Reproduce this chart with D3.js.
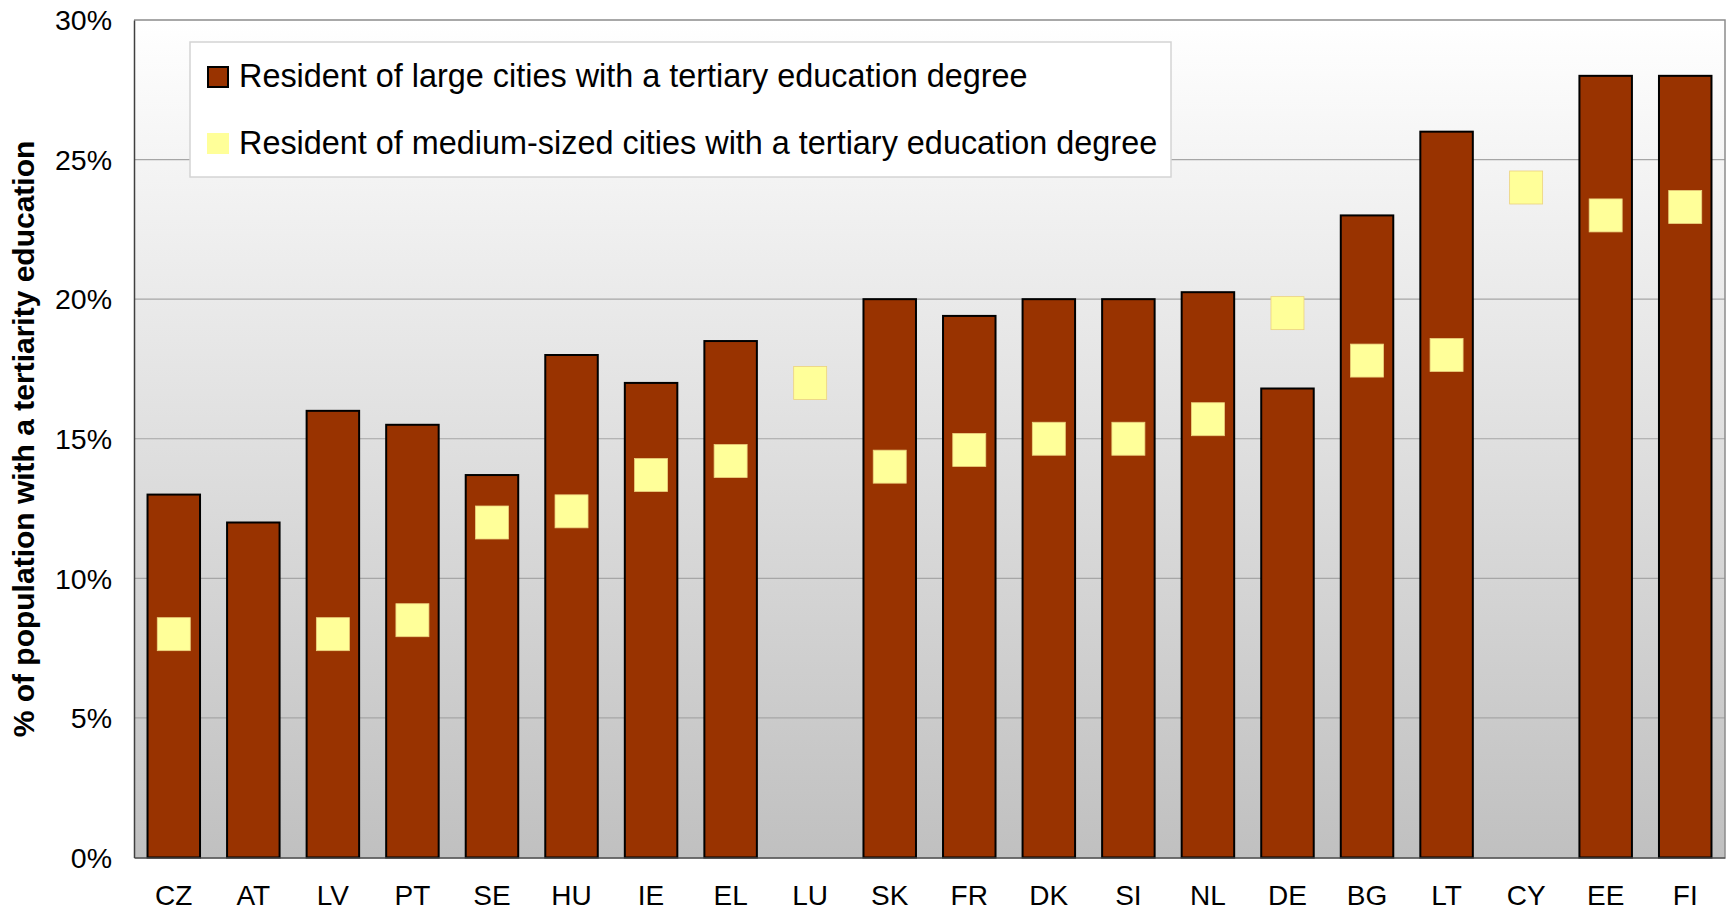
<html>
<head>
<title>Tertiary education by city size</title>
<style>
  body { margin: 0; background: #ffffff; overflow: hidden; }
  svg { display: block; }
  text { font-family: "Liberation Sans", Arial, sans-serif; }
</style>
</head>
<body>
<div id="chart"></div>
<script src="https://cdn.jsdelivr.net/npm/d3@7"></script>
<script>
(function(){
  "use strict";

  // Data
  var categories = ["CZ","AT","LV","PT","SE","HU","IE","EL","LU","SK","FR","DK","SI","NL","DE","BG","LT","CY","EE","FI"];
  var largeCities = [13.0,12.0,16.0,15.5,13.7,18.0,17.0,18.5,null,20.0,19.4,20.0,20.0,20.25,16.8,23.0,26.0,null,28.0,28.0];
  var mediumCities = [8.0,null,8.0,8.5,12.0,12.4,13.7,14.2,17.0,14.0,14.6,15.0,15.0,15.7,19.5,17.8,18.0,24.0,23.0,23.3];
  var yTicks = [0,5,10,15,20,25,30];
  var seriesNames = [
    "Resident of large cities with a tertiary education degree",
    "Resident of medium-sized cities with a tertiary education degree"
  ];
  var yTitle = "% of population with a tertiarity education";

  var totalW = 1731, totalH = 913;
  var margin = { top: 20, right: 6, bottom: 55.5, left: 134 };
  var width = totalW - margin.left - margin.right;
  var height = totalH - margin.top - margin.bottom;

  var svg = d3.select("#chart").append("svg")
    .attr("width", totalW)
    .attr("height", totalH);

  // background gradient of the plot area
  var defs = svg.append("defs");
  var grad = defs.append("linearGradient")
    .attr("id", "bg")
    .attr("x1", 0).attr("y1", 0).attr("x2", 0).attr("y2", 1);
  grad.append("stop").attr("offset", "0%").attr("stop-color", "#ffffff");
  grad.append("stop").attr("offset", "100%").attr("stop-color", "#c0c0c0");

  var g = svg.append("g")
    .attr("transform", "translate(" + margin.left + "," + margin.top + ")");

  var x = d3.scaleBand()
    .domain(categories)
    .range([0, width])
    .paddingInner(0.34)
    .paddingOuter(0.17);

  var y = d3.scaleLinear()
    .domain([0, 30])
    .range([height, 0]);

  g.append("rect")
    .attr("width", width)
    .attr("height", height)
    .style("fill", "url(#bg)");

  // gridlines
  g.selectAll("line.grid")
    .data(yTicks.filter(function(d){ return d > 0 && d < 30; }))
    .enter().append("line")
      .attr("class", "grid")
      .attr("x1", 0).attr("x2", width)
      .attr("y1", function(d){ return y(d); })
      .attr("y2", function(d){ return y(d); })
      .style("stroke", "#a6a6a6")
      .style("stroke-width", 1.2);

  // top and right border
  g.append("path")
    .attr("d", "M0," + y(30) + "H" + width + "V" + height)
    .style("fill", "none")
    .style("stroke", "#8c8c8c")
    .style("stroke-width", 1.5);

  // bars
  g.selectAll("rect.bar")
    .data(categories.map(function(c, i){ return { c: c, v: largeCities[i] }; })
      .filter(function(d){ return d.v !== null; }))
    .enter().append("rect")
      .attr("class", "bar")
      .attr("x", function(d){ return x(d.c); })
      .attr("y", function(d){ return y(d.v); })
      .attr("width", x.bandwidth())
      .attr("height", function(d){ return height - y(d.v); })
      .style("fill", "#993300")
      .style("stroke", "#000000")
      .style("stroke-width", 2);

  // markers
  var ms = 33;
  g.selectAll("rect.marker")
    .data(categories.map(function(c, i){ return { c: c, v: mediumCities[i] }; })
      .filter(function(d){ return d.v !== null; }))
    .enter().append("rect")
      .attr("class", "marker")
      .attr("x", function(d){ return x(d.c) + x.bandwidth() / 2 - ms / 2; })
      .attr("y", function(d){ return y(d.v) - ms / 2; })
      .attr("width", ms)
      .attr("height", ms)
      .style("fill", "#ffff99")
      .style("stroke", "#ecd27e")
      .style("stroke-width", 0.8);

  // axes
  var yAxis = d3.axisLeft(y)
    .tickValues(yTicks)
    .tickSize(0)
    .tickPadding(22)
    .tickFormat(function(d){ return d + "%"; });
  var yGuide = g.append("g").call(yAxis);
  yGuide.select("path").style("stroke", "#404040").style("stroke-width", 1.5);
  yGuide.selectAll("text")
    .style("font-size", "28.5px")
    .style("fill", "#000")
    .attr("dy", "0.34em");

  var xAxis = d3.axisBottom(x).tickSize(0).tickPadding(28);
  var xGuide = g.append("g")
    .attr("transform", "translate(0," + height + ")")
    .call(xAxis);
  xGuide.select("path").style("stroke", "#404040").style("stroke-width", 1.5);
  xGuide.selectAll("text")
    .style("font-size", "28px")
    .style("fill", "#000");

  // y title
  svg.append("text")
    .attr("transform", "translate(34,439) rotate(-90)")
    .attr("text-anchor", "middle")
    .style("font-size", "30px")
    .style("font-weight", "bold")
    .text(yTitle);

  // legend
  var legend = svg.append("g");
  legend.append("rect")
    .attr("x", 190).attr("y", 42)
    .attr("width", 981).attr("height", 135)
    .style("fill", "#ffffff")
    .style("stroke", "#d4d4d4")
    .style("stroke-width", 1.5);

  legend.append("rect")
    .attr("x", 208).attr("y", 67)
    .attr("width", 20).attr("height", 20)
    .style("fill", "#993300")
    .style("stroke", "#000")
    .style("stroke-width", 2);
  legend.append("rect")
    .attr("x", 207).attr("y", 133)
    .attr("width", 22).attr("height", 21)
    .style("fill", "#ffff99");

  legend.selectAll("text")
    .data(seriesNames)
    .enter().append("text")
      .attr("x", 239)
      .attr("y", function(d, i){ return 87 + i * 67; })
      .style("font-size", "32.4px")
      .text(function(d){ return d; });
})();
</script>
</body>
</html>
